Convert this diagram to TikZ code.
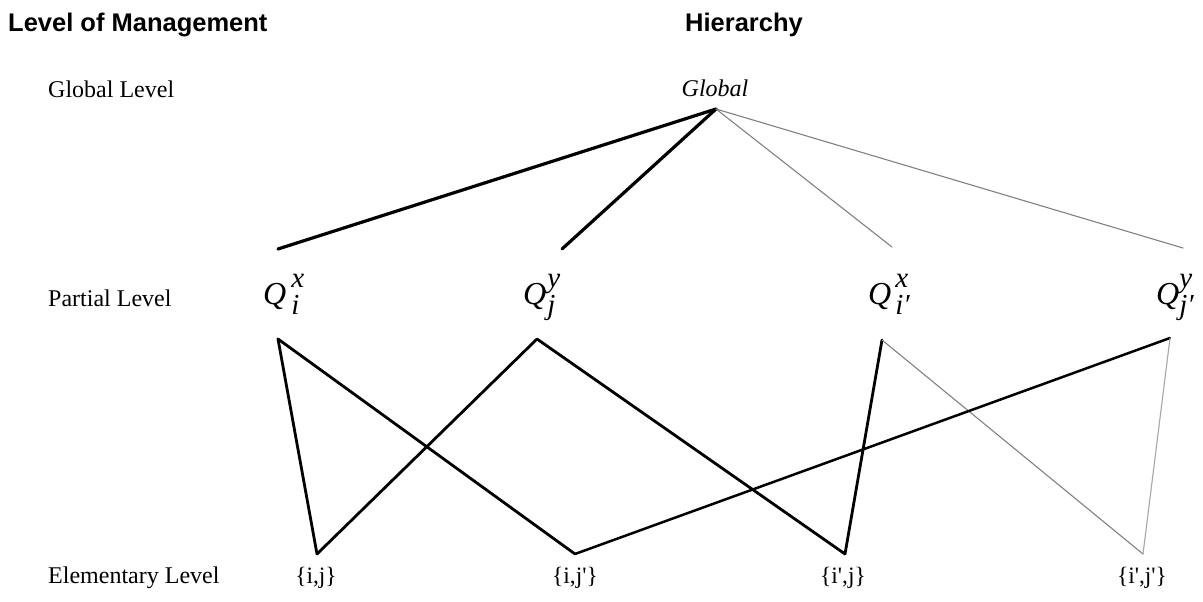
\documentclass[tikz,border=0pt]{standalone}
\usepackage{fontspec}
\setmainfont{Liberation Serif}
\setsansfont{Liberation Sans}
\newcommand\qlabel[3]{{\fontsize{32}{32}\selectfont\itshape Q\hspace{#3pt}\fontsize{29}{29}\selectfont\makebox[0pt][l]{\raisebox{16.5pt}{#1}}\raisebox{-10pt}{#2}}}
\newcommand\qt{\textquotesingle}
\begin{document}
\begin{tikzpicture}[x=1pt,y=-1pt,
  head/.style={font=\sffamily\bfseries\fontsize{25.5}{25.5}\selectfont, inner sep=0pt, anchor=base west},
  lvl/.style={font=\fontsize{24}{24}\selectfont, inner sep=0pt, anchor=base west},
  elem/.style={font=\fontsize{23.5}{23.5}\selectfont, inner sep=0pt, anchor=base},
  qn/.style={inner sep=0pt, anchor=base west},
  strong/.style={line width=3.2pt, line cap=round, line join=round},
  lower/.style={line width=2.8pt, line cap=round, line join=round},
  faint/.style={line width=1.1pt, draw=black!50, line cap=round}]
\useasboundingbox (0,0) rectangle (1203,602);
% headers
\node[head] (hlev) at (8,32) {Level of Management};
\node[head, anchor=base] (hhier) at (744,32) {Hierarchy};
% level labels
\node[lvl] (lg) at (48,97) {Global Level};
\node[lvl] (lp) at (48,306) {Partial Level};
\node[lvl] (le) at (48,583) {Elementary Level};
% nodes
\node[font=\fontsize{24}{24}\selectfont\itshape, inner sep=0pt, anchor=base] (glob) at (715,96) {Global};
\node[qn] (qa) at (263,304) {\qlabel{x}{i}{5}};
\node[qn] (qb) at (523,304) {\qlabel{y}{j}{1}};
\node[qn] (qc) at (868,304) {\qlabel{x}{i′}{4}};
\node[qn] (qd) at (1156,304) {\qlabel{y}{j′}{0}};
\node[elem] (ea) at (316,583) {\{i,j\}};
\node[elem] (eb) at (575,583) {\{i,j\qt\}};
\node[elem] (ec) at (843,583) {\{i\qt,j\}};
\node[elem] (ed) at (1142,583) {\{i\qt,j\qt\}};
% connector anchor points
\coordinate (g) at (716,109);
\coordinate (a1) at (278,249);
\coordinate (a2) at (562,249);
\coordinate (a3) at (892,247);
\coordinate (a4) at (1183,248);
\coordinate (pa) at (278,339);
\coordinate (pb) at (537,339);
\coordinate (pc) at (882,340);
\coordinate (pd) at (1170,338);
\coordinate (e1) at (317,554);
\coordinate (e2) at (575,554);
\coordinate (e3) at (845,554);
\coordinate (e4) at (1143,554);
% upper connectors
\draw[strong] (g) -- (a1);
\draw[strong] (g) -- (a2);
\draw[faint] (g) -- (a3);
\draw[faint] (g) -- (a4);
% lower connectors
\draw[lower] (pa) -- (e1);
\draw[lower] (pa) -- (e2);
\draw[lower] (pb) -- (e1);
\draw[lower] (pb) -- (e3);
\draw[lower] (pc) -- (e3);
\draw[faint] (pc) -- (e4);
\draw[lower, line width=2.5pt] (pd) -- (e2);
\draw[faint, draw=black!35] (pd) -- (e4);
\end{tikzpicture}
\end{document}
